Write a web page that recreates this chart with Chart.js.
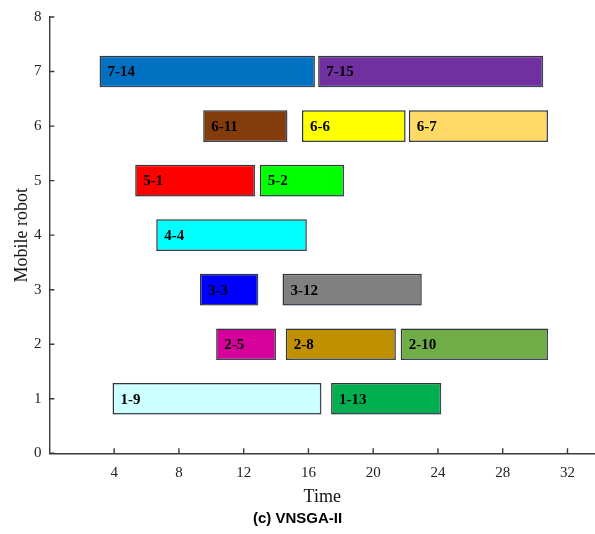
<!DOCTYPE html>
<html>
<head>
<meta charset="utf-8">
<script src="https://cdn.jsdelivr.net/npm/chart.js@4/dist/chart.umd.min.js"></script>
<style>
  html, body { margin: 0; padding: 0; background: #ffffff; }
  #wrap { width: 595px; height: 534px; }
</style>
</head>
<body>
<div id="wrap"><canvas id="gantt" width="595" height="534"></canvas></div>
<script>
// Schedule: one entry per operation (robot - task)
const taskLabels = ['7-14', '7-15', '6-11', '6-6', '6-7', '5-1', '5-2', '4-4',
                    '3-3', '3-12', '2-5', '2-8', '2-10', '1-9', '1-13'];
const robots     = [7, 7, 6, 6, 6, 5, 5, 4, 3, 3, 2, 2, 2, 1, 1];
const startTimes = [3.1, 16.6, 9.5, 15.6, 22.2, 5.3, 13.0, 6.6, 9.3, 14.4, 10.3, 14.6, 21.7, 3.9, 17.4];
const endTimes   = [16.4, 30.5, 14.7, 22.0, 30.8, 12.7, 18.2, 15.9, 12.9, 23.0, 14.0, 21.4, 30.8, 16.8, 24.2];
const barColors  = ['#0070C0', '#7030A0', '#843C0C', '#FFFF00', '#FFD966', '#FF0000', '#00FF00', '#00FFFF',
                    '#0000FF', '#808080', '#D6009A', '#BF9000', '#70AD47', '#CCFFFF', '#00B050'];

const timeTicks  = [4, 8, 12, 16, 20, 24, 28, 32];
const robotTicks = [0, 1, 2, 3, 4, 5, 6, 7, 8];

const AXIS_COLOR = '#3a3a3a';
const SERIF = '"Liberation Serif", "Times New Roman", serif';

// soft shadow under the bars, then the operation names on top
const barDecor = {
  id: 'barDecor',
  beforeDatasetsDraw(chart) {
    const ctx = chart.ctx;
    ctx.save();
    ctx.shadowColor = 'rgba(110, 140, 190, 0.35)';
    ctx.shadowBlur = 4;
    ctx.shadowOffsetX = 2;
    ctx.shadowOffsetY = 2;
  },
  afterDatasetsDraw(chart) {
    const ctx = chart.ctx;
    ctx.restore();
    const meta = chart.getDatasetMeta(0);
    ctx.save();
    ctx.fillStyle = '#000000';
    ctx.font = 'bold 15px ' + SERIF;
    ctx.textAlign = 'left';
    ctx.textBaseline = 'middle';
    meta.data.forEach((bar, i) => {
      const left = Math.min(bar.x, bar.base);
      ctx.fillText(taskLabels[i], left + 8, bar.y + 1);
    });
    ctx.restore();
  }
};

// tick marks pointing into the plot area
const innerTicks = {
  id: 'innerTicks',
  afterDraw(chart) {
    const ctx = chart.ctx;
    const xs = chart.scales.x, ys = chart.scales.y;
    const area = chart.chartArea;
    ctx.save();
    ctx.strokeStyle = AXIS_COLOR;
    ctx.lineWidth = 1.4;
    ctx.beginPath();
    timeTicks.forEach(v => {
      const px = xs.getPixelForValue(v);
      ctx.moveTo(px, area.bottom);
      ctx.lineTo(px, area.bottom - 5);
    });
    robotTicks.forEach(v => {
      const py = ys.getPixelForValue(v);
      ctx.moveTo(area.left, py);
      ctx.lineTo(area.left + 5, py);
    });
    ctx.stroke();
    ctx.restore();
  }
};

new Chart(document.getElementById('gantt'), {
  type: 'bar',
  data: {
    datasets: [{
      data: taskLabels.map((_, i) => ({ x: [startTimes[i], endTimes[i]], y: robots[i] })),
      backgroundColor: barColors,
      borderColor: '#333333',
      borderWidth: 1.5,
      borderSkipped: false,
      barPercentage: 0.58,
      categoryPercentage: 1
    }]
  },
  options: {
    indexAxis: 'y',
    responsive: false,
    devicePixelRatio: 1,
    animation: false,
    layout: { padding: { top: 17, right: 0, left: 0, bottom: 0 } },
    plugins: {
      legend: { display: false },
      tooltip: { enabled: false },
      title: {
        display: true,
        position: 'bottom',
        text: '(c) VNSGA-II',
        color: '#000000',
        font: { family: '"Liberation Sans", Arial, sans-serif', size: 15, weight: 'bold', lineHeight: 1.2 },
        padding: { top: 0, bottom: 6 }
      }
    },
    scales: {
      x: {
        type: 'linear',
        min: 0,
        max: 33.7,
        afterBuildTicks(scale) { scale.ticks = timeTicks.map(v => ({ value: v })); },
        afterFit(scale) { scale.height = 56.7; },
        grid: { display: false, drawTicks: false },
        border: { display: true, color: AXIS_COLOR, width: 1.4 },
        ticks: { color: '#222222', font: { family: SERIF, size: 15 }, padding: 11, maxRotation: 0, autoSkip: false },
        title: {
          display: true,
          text: 'Time',
          color: '#111111',
          font: { family: SERIF, size: 18, lineHeight: 1.2 },
          padding: { top: 0, bottom: 2 }
        }
      },
      y: {
        type: 'linear',
        min: 0,
        max: 8,
        offset: false,
        afterBuildTicks(scale) { scale.ticks = robotTicks.map(v => ({ value: v })); },
        afterFit(scale) { scale.width = 49.4; },
        grid: { display: false, drawTicks: false, offset: false },
        border: { display: true, color: AXIS_COLOR, width: 1.4 },
        ticks: { color: '#222222', font: { family: SERIF, size: 15 }, padding: 8, autoSkip: false },
        title: {
          display: true,
          text: 'Mobile robot',
          color: '#111111',
          font: { family: SERIF, size: 18, lineHeight: 1.2 },
          padding: { top: 11, bottom: 0 }
        }
      }
    }
  },
  plugins: [barDecor, innerTicks]
});
</script>
</body>
</html>
